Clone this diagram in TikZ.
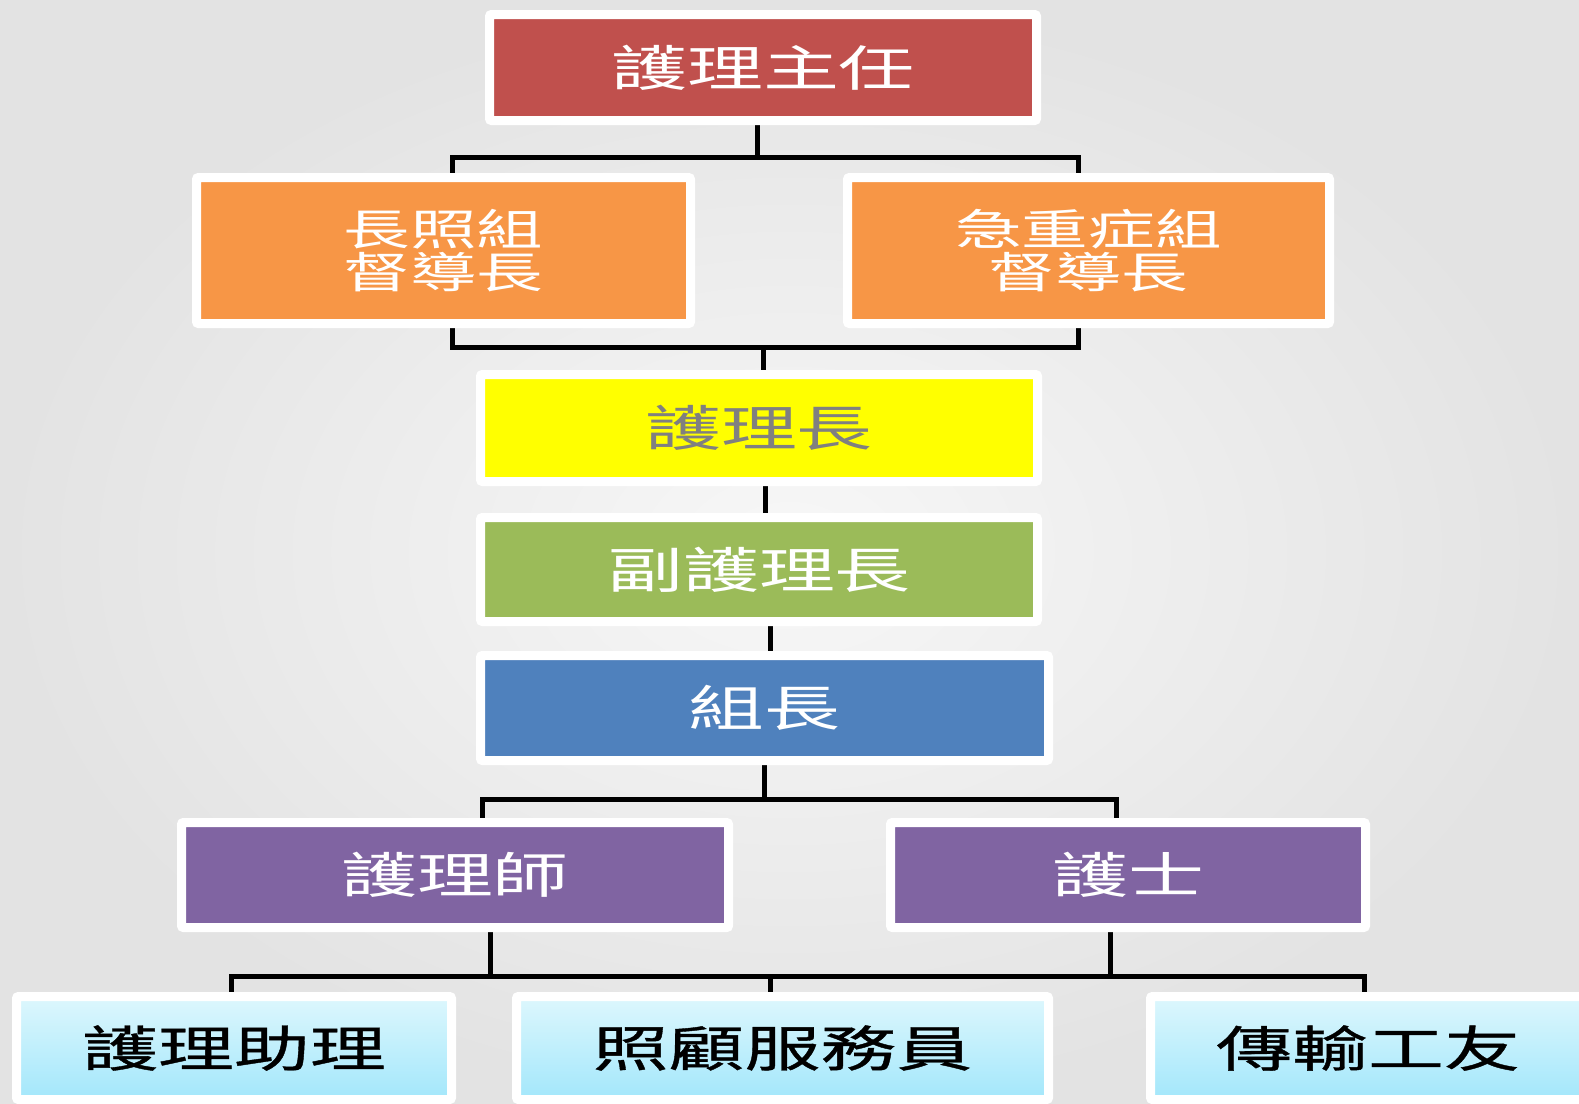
\documentclass[tikz,border=0pt]{standalone}
\usepackage{fontspec}
\usepackage{tikz}
\usetikzlibrary{shadows,backgrounds}
\newfontfamily\cjk[FakeStretch=1.55]{Noto Sans CJK TC}
\newfontfamily\cjkbold[FakeStretch=1.55,FakeBold=0.8]{Noto Sans CJK TC}

\definecolor{redbox}{HTML}{C0504D}
\definecolor{orangebox}{HTML}{F79646}
\definecolor{yellowbox}{HTML}{FFFF00}
\definecolor{greenbox}{HTML}{9BBB59}
\definecolor{bluebox}{HTML}{4F81BD}
\definecolor{purplebox}{HTML}{8064A2}
\definecolor{skytop}{HTML}{DDF7FD}
\definecolor{skybottom}{HTML}{A3E7FB}

\tikzset{
  orgbox/.style={draw=white, line width=9pt, rounded corners=2pt, inner sep=0pt,
    text=white, align=center, font=\cjk\fontsize{49}{54}\selectfont,
    drop shadow={shadow xshift=2pt, shadow yshift=-3pt, opacity=0.2}},
  staffbox/.style={orgbox, text=black, top color=skytop, bottom color=skybottom,
    font=\cjkbold\fontsize{49}{54}\selectfont},
  link/.style={line width=5pt, black}
}

\begin{document}
\begin{tikzpicture}[x=1pt,y=-1pt]
    \useasboundingbox (0,0) rectangle (1579,1103);

    % Draw the boxes
    \node[orgbox, fill=redbox, minimum width=547pt, minimum height=106pt] (zhuren) at (763,67.5) {護理主任};
    \node[orgbox, fill=orangebox, minimum width=494pt, minimum height=146pt,
      font=\cjk\fontsize{43}{43}\selectfont] (changzhao) at (443.5,250.5) {長照組\\督導長};
    \node[orgbox, fill=orangebox, minimum width=482pt, minimum height=146pt,
      font=\cjk\fontsize{43}{43}\selectfont] (jizhong) at (1088.5,250.5) {急重症組\\督導長};
    \node[orgbox, fill=yellowbox, text=black!50, minimum width=557pt, minimum height=107pt] (hulizhang) at (759,428) {護理長};
    \node[orgbox, fill=greenbox, minimum width=557pt, minimum height=104pt] (fuhuli) at (759,569.5) {副護理長};
    \node[orgbox, fill=bluebox, minimum width=568pt, minimum height=105pt] (zuzhang) at (764.5,708) {組長};
    \node[orgbox, fill=purplebox, minimum width=547pt, minimum height=105pt] (hulishi) at (455,875) {護理師};
    \node[orgbox, fill=purplebox, minimum width=475pt, minimum height=105pt] (hushi) at (1128,875) {護士};
    \node[staffbox, minimum width=435pt, minimum height=103pt] (zhuli) at (234,1048) {護理助理};
    \node[staffbox, minimum width=532pt, minimum height=103pt] (zhaogu) at (782.5,1048) {照顧服務員};
    \node[staffbox, minimum width=435pt, minimum height=103pt] (chuanshu) at (1368,1048) {傳輸工友};

    \begin{scope}[on background layer]
    % Background
    \shade[inner color=white!97!black, outer color=black!11] (0,0) rectangle (1579,1103);

    % Draw the connectors
    \draw[link] ([xshift=-6pt]zhuren.south) -- ++(0,32) coordinate (b1);
    \draw[link] ([xshift=8.5pt]changzhao.north) |- (b1) -| ([xshift=-10.5pt]jizhong.north);
    \draw[link] ([xshift=8.5pt]changzhao.south) -- ++(0,19) coordinate (b2) -| ([xshift=-10.5pt]jizhong.south);
    \draw[link] ([xshift=4pt]hulizhang.north) -- ([xshift=4pt]hulizhang.north |- b2);
    \draw[link] ([xshift=6pt]hulizhang.south) -- ([xshift=6pt]fuhuli.north);
    \draw[link] ([xshift=11pt]fuhuli.south) -- ([xshift=11pt]fuhuli.south |- zuzhang.north);
    \draw[link] (zuzhang.south) -- ++(0,34.5) coordinate (b3);
    \draw[link] ([xshift=27pt]hulishi.north) |- (b3) -| ([xshift=-12pt]hushi.north);
    \draw[link] ([xshift=35pt]hulishi.south) -- ++(0,44.5) coordinate (b4);
    \draw[link] ([xshift=-18pt]hushi.south) -- ([xshift=-18pt]hushi.south |- b4);
    \draw[link] ([xshift=-3pt]zhuli.north) |- (b4) -| ([xshift=-4pt]chuanshu.north);
    \draw[link] ([xshift=-12.5pt]zhaogu.north) -- ([xshift=-12.5pt]zhaogu.north |- b4);
    \end{scope}
  \end{tikzpicture}
\end{document}
